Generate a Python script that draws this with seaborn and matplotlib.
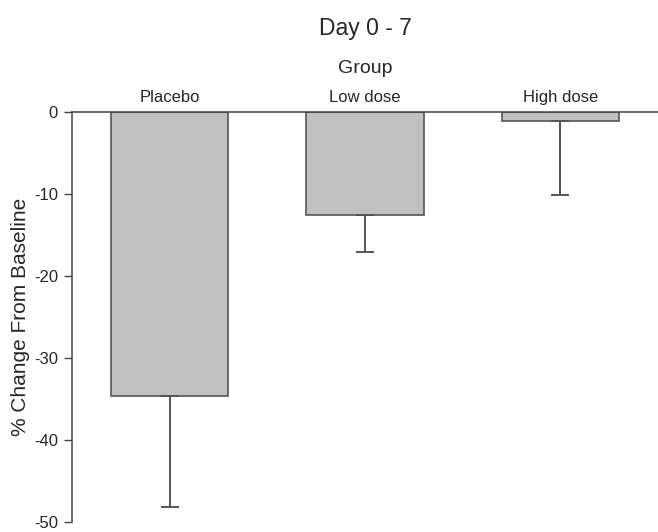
import pandas as pd
import numpy as np
import matplotlib
matplotlib.use('Agg')
import matplotlib.pyplot as plt
import seaborn as sns

# datos
groups = ['Placebo', 'Low dose', 'High dose']
mean_change = [-34.6, -12.6, -1.1]
err_down = [13.6, 4.5, 9.0]
y_ticks = [0, -10, -20, -30, -40, -50]

sns.set_style('white')
plt.rcParams['font.family'] = ['Liberation Sans', 'DejaVu Sans']

df = pd.DataFrame({'Group': groups, 'Change': mean_change})

fig = plt.figure(figsize=(6.58, 5.32), dpi=100)
ax = fig.add_axes([0.1094, 0.0188, 0.8906, 0.7707])

sns.barplot(data=df, x='Group', y='Change', order=groups, color='#c0c0c0',
            saturation=1, width=0.6, edgecolor='#555555', linewidth=1.2,
            errorbar=None, ax=ax)

# barras de error solo hacia abajo
x_pos = np.arange(len(groups))
ax.errorbar(x_pos, mean_change, yerr=[err_down, [0] * len(groups)], fmt='none',
            ecolor='#555555', elinewidth=1.4, capsize=6.5, capthick=1.4)

ax.set_xlim(-0.5, 2.5)
ax.set_ylim(-50, 0)
ax.set_yticks(y_ticks)
ax.set_yticklabels([str(t) for t in y_ticks], fontsize=12)

ax.xaxis.tick_top()
ax.xaxis.set_label_position('top')
ax.tick_params(axis='x', length=0, pad=5, labelsize=12)
ax.tick_params(axis='y', left=True, length=6, width=1, color='#444444', pad=4)
ax.set_xlabel('Group', fontsize=14, labelpad=12)
ax.set_ylabel('% Change From Baseline', fontsize=15, labelpad=3)
ax.set_title('Day 0 - 7', fontsize=16.5, pad=18)

for s in ['bottom', 'right']:
    ax.spines[s].set_visible(False)
for s in ['left', 'top']:
    ax.spines[s].set_color('#444444')
    ax.spines[s].set_linewidth(1.1)

plt.savefig('out.png', dpi=100)
plt.close()
